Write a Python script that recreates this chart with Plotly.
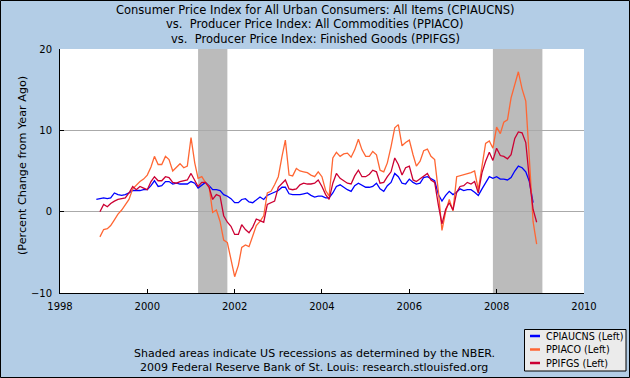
import pandas as pd
import plotly.graph_objects as go

# ---------------- data (year-over-year % change) ----------------
cpi_start = "1998-11-01"
cpiaucns = [
    1.5, 1.6,
    1.7, 1.6, 1.7, 2.3, 2.1, 2.0, 2.1, 2.3, 2.6, 2.6, 2.6, 2.7,
    2.7, 3.2, 3.8, 3.1, 3.2, 3.7, 3.7, 3.4, 3.5, 3.4, 3.4, 3.4,
    3.7, 3.5, 2.9, 3.3, 3.6, 3.2, 2.7, 2.7, 2.6, 2.1, 1.9, 1.6,
    1.1, 1.1, 1.5, 1.6, 1.2, 1.1, 1.5, 1.8, 1.5, 2.0, 2.2, 2.4,
    2.6, 3.0, 3.0, 2.2, 2.1, 2.1, 2.1, 2.2, 2.3, 2.0, 1.8, 1.9,
    1.9, 1.7, 1.7, 2.3, 3.1, 3.3, 3.0, 2.7, 2.5, 3.2, 3.5, 3.3,
    3.0, 3.0, 3.1, 3.5, 2.8, 2.5, 3.2, 3.6, 4.7, 4.3, 3.5, 3.4,
    4.0, 3.6, 3.4, 3.5, 4.2, 4.3, 4.1, 3.8, 2.1, 1.3, 2.0, 2.5,
    2.1, 2.4, 2.8, 2.6, 2.7, 2.7, 2.4, 2.0, 2.8, 3.5, 4.3, 4.1,
    4.3, 4.0, 4.0, 3.9, 4.2, 5.0, 5.6, 5.4, 4.9, 3.7, 1.1,
]

ppi_start = "1998-12-01"
ppiaco = [
    -3.1,
    -2.2, -2.1, -1.7, -1.0, -0.3, 0.2, 0.8, 1.5, 2.8, 3.3, 3.7, 4.0,
    4.5, 5.5, 6.8, 5.8, 5.8, 6.8, 6.4, 5.0, 5.4, 5.9, 5.4, 5.6,
    9.1, 6.0, 4.1, 4.3, 3.6, 3.1, -0.1, 0.2, -1.2, -3.5, -3.8, -5.9,
    -8.0, -6.6, -4.4, -4.1, -4.3, -3.0, -1.7, -1.2, -0.5, 2.3, 2.5, 3.3,
    4.3, 6.8, 8.8, 4.5, 4.4, 5.3, 5.0, 4.9, 4.8, 4.5, 4.3, 4.9,
    4.3, 2.6, 1.9, 6.6, 7.3, 6.8, 7.1, 7.2, 6.7, 7.6, 8.9, 7.6,
    6.8, 6.8, 7.4, 7.0, 5.1, 4.9, 6.0, 8.0, 10.3, 10.7, 8.1, 8.5,
    8.8, 7.0, 5.6, 6.2, 7.5, 7.7, 6.8, 6.4, 2.5, -2.3, 0.0, 1.5,
    0.1, 4.3, 4.4, 4.5, 4.6, 4.8, 5.0, 2.7, 5.6, 8.4, 8.7, 7.8,
    10.4, 9.6, 11.0, 11.3, 14.0, 15.5, 17.2, 15.1, 13.6, 6.5, -1.2, -4.0,
]
ppifgs = [
    0.0,
    0.9, 0.6, 1.0, 1.3, 1.5, 1.6, 1.7, 2.3, 3.1, 2.7, 3.1, 2.9,
    2.7, 3.7, 4.3, 3.8, 3.8, 4.3, 4.2, 3.6, 3.5, 3.7, 3.8, 3.9,
    4.7, 3.9, 3.1, 3.6, 3.6, 3.0, 1.5, 2.1, 1.9, -0.5, -1.3, -1.8,
    -2.8, -2.8, -1.6, -2.2, -2.6, -1.9, -0.9, -1.1, -1.3, 0.9, 1.1, 1.3,
    3.0, 3.5, 3.9, 2.8, 2.7, 2.8, 3.3, 3.5, 3.4, 3.4, 3.5, 3.9,
    3.1, 2.1, 1.5, 3.5, 4.7, 4.1, 3.8, 3.5, 3.4, 4.4, 5.1, 4.3,
    4.3, 4.6, 5.1, 4.9, 3.5, 3.6, 4.3, 4.9, 6.6, 5.8, 4.5, 5.4,
    5.6, 3.9, 3.7, 4.0, 4.3, 4.7, 3.9, 3.6, 0.8, -1.5, 0.3, 1.1,
    0.2, 2.4, 3.1, 3.2, 3.6, 3.4, 3.7, 2.3, 4.8, 6.2, 7.3, 6.3,
    7.8, 6.9, 6.8, 6.5, 7.0, 9.0, 9.8, 9.7, 8.5, 4.0, 0.3, -1.3,
]

series_names = ["CPIAUCNS (Left)", "PPIACO (Left)", "PPIFGS (Left)"]
series_colors = ["#0000FF", "#FF6633", "#CC0033"]

recessions = [("2001-03-01", "2001-11-01"), ("2007-12-01", "2009-01-18")]

x_tick_years = [1998, 2000, 2002, 2004, 2006, 2008, 2010]
y_ticks = [-10, 0, 10, 20]

title_lines = [
    "Consumer Price Index for All Urban Consumers: All Items (CPIAUCNS)",
    "vs.\u00a0 Producer Price Index: All Commodities (PPIACO)",
    "vs.\u00a0 Producer Price Index: Finished Goods (PPIFGS)",
]
y_title = "(Percent Change from Year Ago)"
note_lines = [
    "Shaded areas indicate US recessions as determined by the NBER.",
    "2009 Federal Reserve Bank of St. Louis: research.stlouisfed.org",
]

# ---------------- figure ----------------
W, H = 630, 378
L, R, T, B = 60, 46, 49, 85
PW, PH = W - L - R, H - T - B


def px(xp):
    return (xp - L) / PW


def py(yp):
    return (H - B - yp) / PH


FONT = "DejaVu Sans"
BG = "#B3CDE6"

cpi_dates = pd.date_range(cpi_start, periods=len(cpiaucns), freq="MS")
ppi_dates = pd.date_range(ppi_start, periods=len(ppiaco), freq="MS")

fig = go.Figure()
for dates, vals, name, color in [
    (cpi_dates, cpiaucns, series_names[0], series_colors[0]),
    (ppi_dates, ppiaco, series_names[1], series_colors[1]),
    (ppi_dates, ppifgs, series_names[2], series_colors[2]),
]:
    fig.add_trace(go.Scatter(x=dates, y=vals, mode="lines", name=name,
                             line=dict(color=color, width=1.3),
                             showlegend=False))

shapes = []
for a, b in recessions:
    shapes.append(dict(type="rect", xref="x", yref="paper", x0=a, x1=b,
                       y0=0, y1=1, fillcolor="#BBBBBB", line=dict(width=0),
                       layer="between"))

# outer figure border
shapes.append(dict(type="rect", xref="paper", yref="paper",
                   x0=px(0.5), x1=px(W - 0.5), y0=py(H - 0.5), y1=py(0.5),
                   line=dict(color="#000000", width=1), layer="above"))

annotations = []
# title lines
for i, line in enumerate(title_lines):
    annotations.append(dict(text=line, xref="paper", yref="paper",
                            x=px(315), y=py(10 + i * 14.5),
                            xanchor="center", yanchor="middle", showarrow=False,
                            font=dict(family=FONT, size=11.5, color="#000000")))

# manual legend
lx0, lx1, ly0, ly1 = 524.5, 626, 329.5, 371
shapes.append(dict(type="rect", xref="paper", yref="paper",
                   x0=px(lx0), x1=px(lx1), y0=py(ly1), y1=py(ly0),
                   fillcolor="#EBEBEB", line=dict(color="#000000", width=1),
                   layer="above"))
for i, (name, color) in enumerate(zip(series_names, series_colors)):
    yy = 336 + i * 13.5
    shapes.append(dict(type="line", xref="paper", yref="paper",
                       x0=px(530), x1=px(540), y0=py(yy), y1=py(yy),
                       line=dict(color=color, width=2.5), layer="above"))
    annotations.append(dict(text=name, xref="paper", yref="paper",
                            x=px(543.5), y=py(yy), xanchor="left", yanchor="middle",
                            showarrow=False, font=dict(family=FONT, size=9.6, color="#000000")))

# y-axis title
annotations.append(dict(text=y_title, xref="paper", yref="paper",
                        x=px(22), y=py(166), textangle=-90,
                        xanchor="center", yanchor="middle", showarrow=False,
                        font=dict(family=FONT, size=11.2, color="#000000")))

# source notes
for i, line in enumerate(note_lines):
    annotations.append(dict(text=line, xref="paper", yref="paper",
                            x=px(314), y=py(353 + i * 14.6),
                            xanchor="center", yanchor="middle", showarrow=False,
                            font=dict(family=FONT, size=11, color="#000000")))

fig.update_layout(
    width=W, height=H,
    margin=dict(l=L, r=R, t=T, b=B, autoexpand=False),
    paper_bgcolor=BG, plot_bgcolor="#FFFFFF",
    shapes=shapes, annotations=annotations,
    showlegend=False,
    xaxis=dict(type="date", range=["1998-01-01", "2010-01-01"],
               tickvals=[f"{y}-01-01" for y in x_tick_years],
               ticktext=[str(y) for y in x_tick_years],
               showgrid=False, zeroline=False,
               showline=True, linecolor="#000000", linewidth=1,
               ticks="inside", ticklen=4, tickcolor="#000000",
               ticklabelstandoff=4,
               tickfont=dict(family=FONT, size=10, color="#000000")),
    yaxis=dict(range=[-10, 20], tickvals=y_ticks,
               showgrid=True, gridcolor="#AAAAAA", gridwidth=1,
               zeroline=False,
               showline=True, linecolor="#000000", linewidth=1,
               ticks="inside", ticklen=4, tickcolor="#000000",
               ticklabelstandoff=5,
               tickfont=dict(family=FONT, size=10, color="#000000")),
)

fig.write_html("out.html",
               config={"displayModeBar": False, "staticPlot": True},
               post_script="document.body.style.margin='0';"
                           "document.body.style.padding='0';"
                           "document.body.style.overflow='hidden';")
